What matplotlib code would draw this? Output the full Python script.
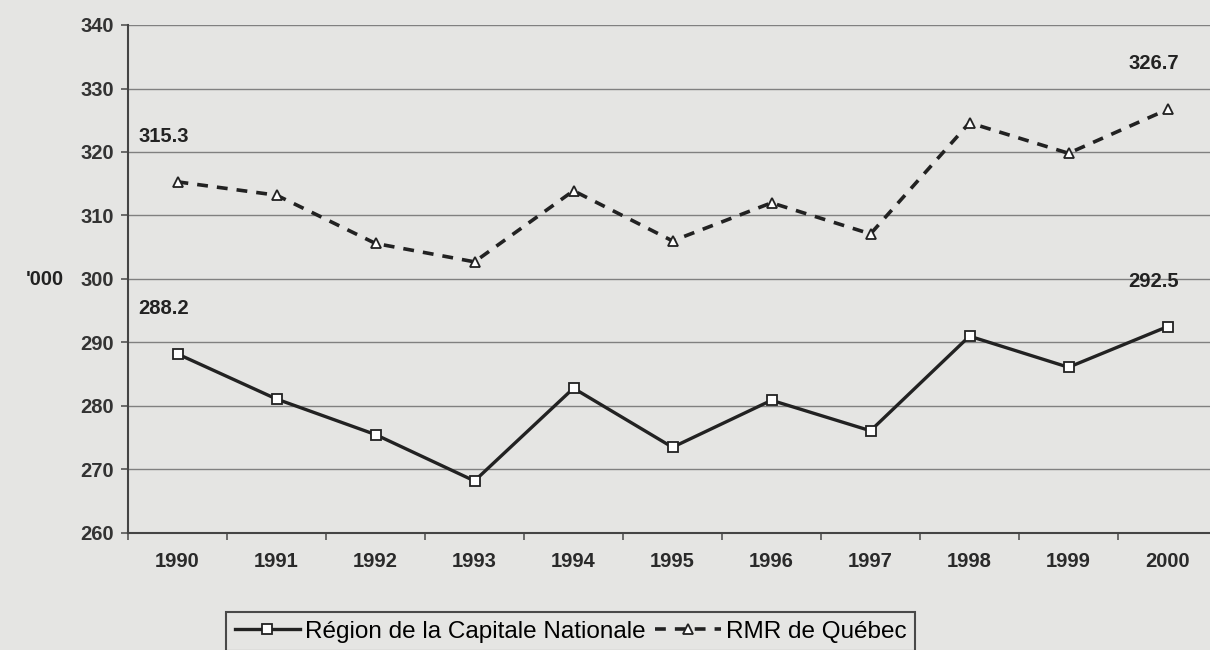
import matplotlib
matplotlib.use("Agg")
import matplotlib.pyplot as plt
from matplotlib.ticker import FixedLocator

plt.rcParams['font.family'] = ['Liberation Sans', 'DejaVu Sans']

years = ["1990", "1991", "1992", "1993", "1994", "1995",
         "1996", "1997", "1998", "1999", "2000"]
region_cn = [288.2, 281.1, 275.5, 268.2, 282.8, 273.5, 280.9, 276.1, 291.0, 286.1, 292.5]
rmr_quebec = [315.3, 313.2, 305.6, 302.7, 313.9, 306.0, 312.0, 307.1, 324.6, 319.8, 326.7]
yticks = [260, 270, 280, 290, 300, 310, 320, 330, 340]

bg = "#e5e5e3"
ink = "#222222"

fig = plt.figure(figsize=(12.1, 6.5), dpi=100, facecolor=bg)
ax = fig.add_axes([128 / 1210, 1 - 533 / 650, (1217 - 128) / 1210, (533 - 25) / 650])
ax.set_facecolor(bg)

x = list(range(len(years)))
ax.plot(x, region_cn, color=ink, lw=2.4, marker="s", ms=6.5, mfc="white",
        mec=ink, mew=1.3, label="Région de la Capitale Nationale", zorder=3)
ax.plot(x, rmr_quebec, color=ink, lw=2.6, dashes=(3.0, 2.5), marker="^", ms=6.5,
        mfc="white", mec=ink, mew=1.3, label="RMR de Québec", zorder=3)

# value labels on first and last points
for series in (region_cn, rmr_quebec):
    for i in (0, len(years) - 1):
        ax.annotate(f"{series[i]:.1f}", (x[i], series[i]), xytext=(-10, 26),
                    textcoords="offset points", ha="center", va="bottom",
                    fontsize=14.5, fontweight="bold", color=ink)

ax.set_xlim(-0.5, len(years) - 0.5)
ax.set_ylim(260, 340)
ax.set_yticks(yticks)
ax.set_xticks(x)
ax.set_xticklabels(years)
ax.xaxis.set_minor_locator(FixedLocator([i - 0.5 for i in range(len(years) + 1)]))
ax.tick_params(axis="x", which="major", length=0, pad=14, labelsize=14.5, labelcolor="#2a2a2a")
ax.tick_params(axis="x", which="minor", length=5, width=1.2, color="#555555")
ax.tick_params(axis="y", length=5, width=1.2, color="#555555", pad=5,
               labelsize=14.5, labelcolor="#333333")
for lab in ax.get_xticklabels() + ax.get_yticklabels():
    lab.set_fontweight("bold")

ax.grid(axis="y", color="#808080", lw=1.0)
ax.set_axisbelow(True)
for side in ("top", "right"):
    ax.spines[side].set_visible(False)
for side in ("left", "bottom"):
    ax.spines[side].set_color("#444444")
    ax.spines[side].set_linewidth(1.5)

fig.text(45 / 1210, 1 - 279 / 650, "'000", ha="center", va="center",
         fontsize=14.5, fontweight="bold", color=ink)

leg = fig.legend(loc="upper left", bbox_to_anchor=(226 / 1210, 1 - 612 / 650),
                 ncol=2, frameon=True, fancybox=False, fontsize=17.5,
                 handlelength=2.7, handletextpad=0.2, columnspacing=0.4,
                 borderpad=0.35, borderaxespad=0)
leg.get_frame().set_edgecolor("#222222")
leg.get_frame().set_linewidth(1.5)
leg.get_frame().set_facecolor(bg)

fig.savefig("out.png", dpi=100, facecolor=bg)
